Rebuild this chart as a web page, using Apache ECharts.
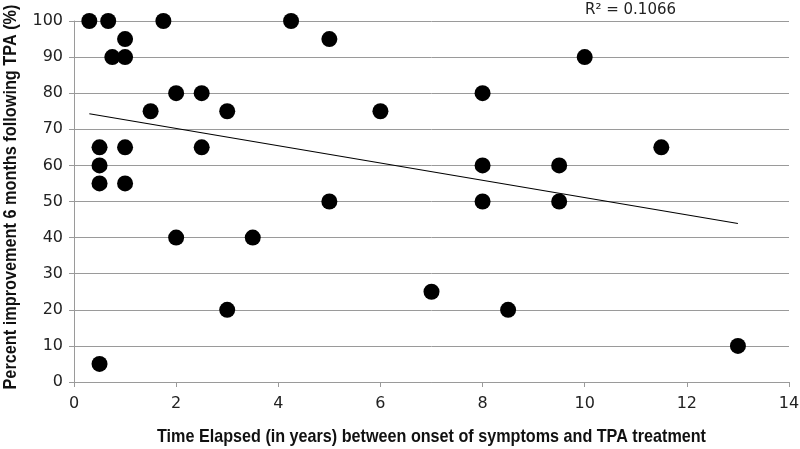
<!DOCTYPE html>
<html><head><meta charset="utf-8">
<script src="https://cdn.jsdelivr.net/npm/echarts@6/dist/echarts.min.js"></script>
<style>html,body{margin:0;padding:0;background:#fff}#c{width:800px;height:449px}</style>
</head><body><div id="c"></div>
<script>
const yearsElapsed = [0.3,0.67,1,0.75,1,1.75,1.5,2,2.5,3,4.25,5,6,0.5,1,0.5,0.5,1,2.5,5,10,8,11.5,8,9.5,8,9.5,2,3.5,3,0.5,7,8.5,13];
const improvement = [100,100,95,90,90,100,75,80,80,75,100,95,75,65,65,60,55,55,65,50,90,80,65,60,60,50,50,40,40,20,5,25,20,10];
const trendX = [0.3, 13];
const trendY = [74.3, 43.9];
const xTicks = [0,2,4,6,8,10,12,14];
const yTicks = [0,10,20,30,40,50,60,70,80,90,100];
const r2Label = 'R² = 0.1066';
const xTitle = 'Time Elapsed (in years) between onset of symptoms and TPA treatment';
const yTitle = 'Percent improvement 6 months following TPA (%)';

const pts = yearsElapsed.map((x,i)=>[x, improvement[i]]);
const trend = trendX.map((x,i)=>[x, trendY[i]]);

const font = 'DejaVu Sans';
const titleFont = 'bold 19px "Liberation Sans"';
const ctx = document.createElement('canvas').getContext('2d');
ctx.font = titleFont;
const xScale = 549 / ctx.measureText(xTitle).width;
const yScale = 385 / ctx.measureText(yTitle).width;

const chart = echarts.init(document.getElementById('c'), null, {renderer:'canvas'});
chart.setOption({
  animation:false,
  grid:{left:74,right:11,top:21,bottom:67,containLabel:false,outerBoundsMode:'none'},
  xAxis:{type:'value',min:xTicks[0],max:xTicks[xTicks.length-1],interval:2,
    axisLine:{lineStyle:{color:'#9a9a9a',width:1}},
    axisTick:{show:true,length:5,lineStyle:{color:'#9a9a9a'}},
    axisLabel:{fontFamily:font,fontSize:16,color:'#222',margin:14},
    splitLine:{show:false}},
  yAxis:{type:'value',min:yTicks[0],max:yTicks[yTicks.length-1],interval:10,
    axisLine:{show:true,lineStyle:{color:'#9a9a9a',width:1}},
    axisTick:{show:true,length:5,lineStyle:{color:'#9a9a9a'}},
    axisLabel:{fontFamily:font,fontSize:16,color:'#222',margin:11},
    splitLine:{show:true,lineStyle:{color:'#9a9a9a',width:1}}},
  graphic:[
    {type:'text',left:585,top:3,style:{text:r2Label,font:'15px DejaVu Sans',fill:'#222'}},
    {type:'text',x:431.5,y:437,scaleX:xScale,style:{text:xTitle,font:titleFont,fill:'#111',align:'center',verticalAlign:'middle'}},
    {type:'text',x:11,y:197,rotation:Math.PI/2,scaleX:yScale,style:{text:yTitle,font:titleFont,fill:'#111',align:'center',verticalAlign:'middle'}}
  ],
  series:[
    {type:'scatter',data:pts,symbol:'circle',symbolSize:16,itemStyle:{color:'#000',opacity:1},z:3},
    {type:'line',data:trend,symbol:'none',lineStyle:{color:'#000',width:1.2},z:2}
  ]
});
</script></body></html>
